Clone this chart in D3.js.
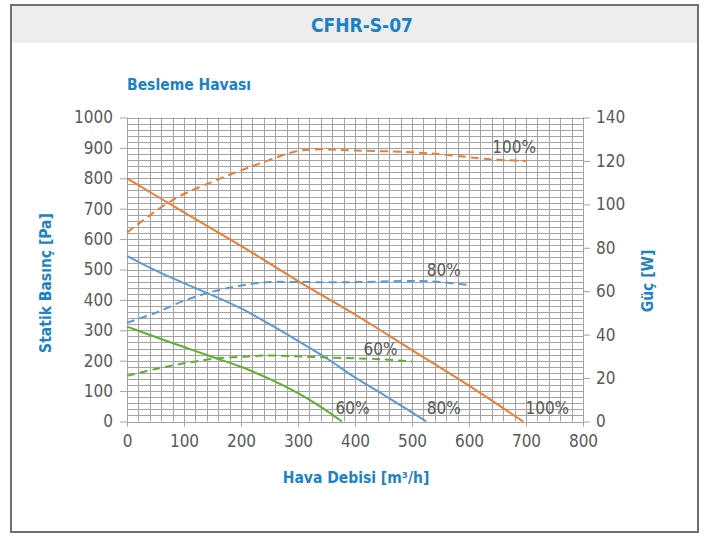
<!DOCTYPE html>
<html>
<head>
<meta charset="utf-8">
<script src="https://cdn.jsdelivr.net/npm/d3@7/dist/d3.min.js"></script>
<style>
  body { margin: 0; background: #fff; }
  svg { display: block; }
  .tick text { font-family: "DejaVu Sans Condensed", "Liberation Sans", sans-serif; font-size: 17px; fill: #595959; }
  .ttl { font-family: "DejaVu Sans Condensed", "Liberation Sans", sans-serif; font-weight: bold; fill: #1b82c5; }
  .pct { font-family: "DejaVu Sans Condensed", "Liberation Sans", sans-serif; font-size: 17px; fill: #595959; }
</style>
</head>
<body>
<svg width="707" height="536"></svg>
<script>
// static pressure curves (Pa) against air flow (m3/h)
var flow100 = [0, 100, 200, 300, 400, 500, 600, 695];
var pres100 = [800, 688, 578, 462, 352, 235, 118, 0];
var flow80 = [0, 50, 100, 150, 200, 250, 300, 350, 400, 450, 500, 525];
var pres80 = [545, 497, 455, 415, 372, 320, 265, 208, 145, 88, 30, 0];
var flow60 = [0, 50, 100, 150, 200, 250, 300, 340, 377];
var pres60 = [312, 278, 245, 212, 180, 140, 93, 48, 0];

// power curves (W)
var flowP100 = [0, 80, 160, 235, 295, 330, 400, 500, 560, 640, 700];
var pow100 = [87, 102, 111.5, 119, 124.3, 125.3, 124.8, 124, 122.8, 120.7, 120];
var flowP80 = [0, 50, 100, 150, 200, 250, 300, 400, 500, 550, 600];
var pow80 = [45.5, 50, 55.6, 59.8, 62.6, 64.2, 64.2, 64.2, 64.7, 64.2, 62.8];
var flowP60 = [0, 50, 100, 150, 200, 250, 300, 350, 400, 450, 500];
var pow60 = [21, 24.2, 26.8, 28.8, 29.8, 30.4, 30, 29.5, 29.1, 28.6, 27.6];

// curve labels (placed in flow / Pa units)
var labelText = ["100%", "80%", "60%", "60%", "80%", "100%"];
var labelX = [641, 526, 415, 366, 526, 699];
var labelY = [882, 480, 219, 25, 25, 25];

var xTicks = [0, 100, 200, 300, 400, 500, 600, 700, 800];
var yTicks = [0, 100, 200, 300, 400, 500, 600, 700, 800, 900, 1000];
var y2Ticks = [0, 20, 40, 60, 80, 100, 120, 140];

var svg = d3.select("svg");

// frame + header
svg.append("rect").attr("x", 11).attr("y", 5).attr("width", 687).attr("height", 527)
  .attr("fill", "#fff").attr("stroke", "#707070").attr("stroke-width", 2);
svg.append("rect").attr("x", 12).attr("y", 6).attr("width", 685).attr("height", 37).attr("fill", "#efedeb");
svg.append("text").attr("class", "ttl").attr("x", 362).attr("y", 32)
  .attr("text-anchor", "middle").style("font-size", "19px").text("CFHR-S-07");
svg.append("text").attr("class", "ttl").attr("x", 127).attr("y", 90)
  .style("font-size", "15.5px").text("Besleme Havası");

var x = d3.scaleLinear().domain([0, 800]).range([127, 583]),
    y = d3.scaleLinear().domain([0, 1000]).range([421.5, 117.5]),
    y2 = d3.scaleLinear().domain([0, 140]).range([421.5, 117.5]);

// grid
var grid = svg.append("g").attr("stroke", "#a3a3a3").attr("stroke-width", 1);
grid.selectAll("line.v").data(d3.range(0, 801, 20)).enter().append("line")
  .attr("x1", function(d) { return Math.round(x(d)) + 0.5; })
  .attr("x2", function(d) { return Math.round(x(d)) + 0.5; })
  .attr("y1", y(1000)).attr("y2", y(0));
grid.selectAll("line.h").data(d3.range(0, 1001, 20)).enter().append("line")
  .attr("y1", function(d) { return Math.round(y(d)) + 0.5; })
  .attr("y2", function(d) { return Math.round(y(d)) + 0.5; })
  .attr("x1", x(0)).attr("x2", x(800));

function styleAxis(g) {
  g.select(".domain").remove();
  g.selectAll(".tick line").attr("stroke", "#a3a3a3");
}

svg.append("g").attr("transform", "translate(0," + y(0) + ")")
  .call(d3.axisBottom(x).tickValues(xTicks).tickFormat(d3.format("d")).tickSize(5).tickPadding(8))
  .call(styleAxis);
svg.append("g").attr("transform", "translate(" + x(0) + ",0)")
  .call(d3.axisLeft(y).tickValues(yTicks).tickFormat(d3.format("d")).tickSize(7).tickPadding(7))
  .call(styleAxis);
svg.append("g").attr("transform", "translate(" + x(800) + ",0)")
  .call(d3.axisRight(y2).tickValues(y2Ticks).tickFormat(d3.format("d")).tickSize(7).tickPadding(6))
  .call(styleAxis);

// axis titles
svg.append("text").attr("class", "ttl").attr("transform", "translate(51,283) rotate(-90)")
  .attr("text-anchor", "middle").style("font-size", "15.5px").text("Statik Basınç [Pa]");
svg.append("text").attr("class", "ttl").attr("transform", "translate(653,281) rotate(-90)")
  .attr("text-anchor", "middle").style("font-size", "15.5px").text("Güç [W]");
svg.append("text").attr("class", "ttl").attr("x", 356).attr("y", 483)
  .attr("text-anchor", "middle").style("font-size", "15.5px").text("Hava Debisi [m³/h]");

// curves
var series = [
  { xs: flow100, ys: pres100, sc: y, color: "#ed7d31", dash: null },
  { xs: flow80, ys: pres80, sc: y, color: "#5b9bd5", dash: null },
  { xs: flow60, ys: pres60, sc: y, color: "#5fb030", dash: null },
  { xs: flowP100, ys: pow100, sc: y2, color: "#ed7d31", dash: "8,5" },
  { xs: flowP80, ys: pow80, sc: y2, color: "#5b9bd5", dash: "8,5" },
  { xs: flowP60, ys: pow60, sc: y2, color: "#5fb030", dash: "8,5" }
];

series.forEach(function(s) {
  var pts = s.xs.map(function(v, i) { return [v, s.ys[i]]; });
  var line = d3.line()
    .x(function(d) { return x(d[0]); })
    .y(function(d) { return s.sc(d[1]); })
    .curve(d3.curveCatmullRom.alpha(0.5));
  svg.append("path").datum(pts)
    .attr("d", line)
    .attr("fill", "none")
    .attr("stroke", s.color)
    .attr("stroke-width", 2)
    .attr("stroke-dasharray", s.dash);
});

svg.selectAll("text.pct").data(labelText).enter().append("text")
  .attr("class", "pct")
  .attr("x", function(d, i) { return x(labelX[i]); })
  .attr("y", function(d, i) { return y(labelY[i]); })
  .text(function(d) { return d; });
</script>
</body>
</html>
